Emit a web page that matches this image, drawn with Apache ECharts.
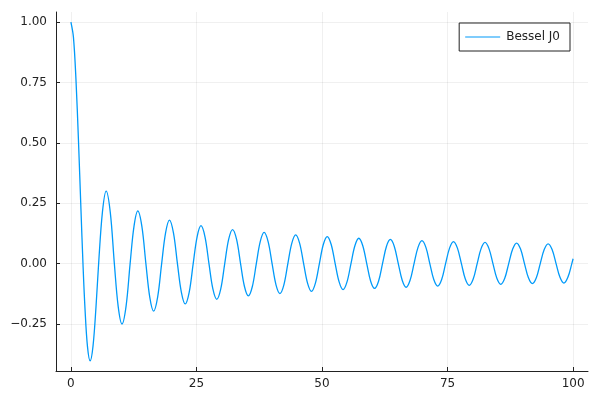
<!DOCTYPE html>
<html>
<head>
<meta charset="utf-8">
<script src="https://cdn.jsdelivr.net/npm/echarts@6/dist/echarts.min.js"></script>
<style>html,body{margin:0;padding:0;background:#fff}#c{width:600px;height:400px}</style>
</head>
<body>
<div id="c"></div>
<script>
// Values (peaks, troughs, zero crossings and half-way points)
const seriesName = 'Bessel J0';
const xValues = [
  0, 0.5, 1, 1.5, 2, 2.40, 2.8, 3.3, 3.83, 4.4, 5.0, 5.52,
  6.27, 7.02, 7.84, 8.65, 9.41, 10.17, 10.98, 11.79, 12.56, 13.32, 14.13, 14.93,
  15.70, 16.47, 17.27, 18.07, 18.85, 19.62, 20.42, 21.21, 21.99, 22.76, 23.56, 24.35,
  25.13, 25.90, 26.70, 27.49, 28.27, 29.05, 29.84, 30.63, 31.41, 32.19, 32.99, 33.78,
  34.56, 35.33, 36.13, 36.92, 37.70, 38.47, 39.27, 40.06, 40.84, 41.62, 42.41, 43.20,
  43.98, 44.76, 45.55, 46.34, 47.12, 47.90, 48.69, 49.48, 50.26, 51.04, 51.83, 52.62,
  53.41, 54.19, 54.98, 55.77, 56.55, 57.33, 58.12, 58.91, 59.69, 60.47, 61.26, 62.05,
  62.83, 63.61, 64.40, 65.19, 65.97, 66.75, 67.54, 68.33, 69.12, 69.90, 70.69, 71.47,
  72.26, 73.04, 73.83, 74.61, 75.40, 76.18, 76.97, 77.76, 78.54, 79.32, 80.11, 80.90,
  81.68, 82.46, 83.25, 84.04, 84.82, 85.60, 86.39, 87.18, 87.97, 88.75, 89.54, 90.32,
  91.11, 91.89, 92.68, 93.46, 94.25, 95.03, 95.82, 96.61, 97.39, 98.17, 98.96, 99.75, 100
];
const yValues = [
  1, 0.938, 0.765, 0.512, 0.224, 0, -0.185, -0.344, -0.403, -0.342, -0.178, 0,
  0.212, 0.300, 0.212, 0, -0.177, -0.250, -0.177, 0, 0.154, 0.218, 0.154, 0,
  -0.139, -0.197, -0.139, 0, 0.127, 0.180, 0.127, 0, -0.118, -0.167, -0.118, 0,
  0.111, 0.157, 0.111, 0, -0.105, -0.148, -0.105, 0, 0.100, 0.141, 0.100, 0,
  -0.095, -0.134, -0.095, 0, 0.091, 0.129, 0.091, 0, -0.088, -0.124, -0.088, 0,
  0.084, 0.119, 0.084, 0, -0.081, -0.115, -0.081, 0, 0.079, 0.112, 0.079, 0,
  -0.076, -0.108, -0.076, 0, 0.074, 0.105, 0.074, 0, -0.073, -0.103, -0.073, 0,
  0.071, 0.100, 0.071, 0, -0.069, -0.098, -0.069, 0, 0.067, 0.095, 0.067, 0,
  -0.066, -0.093, -0.066, 0, 0.064, 0.091, 0.064, 0, -0.064, -0.090, -0.064, 0,
  0.062, 0.088, 0.062, 0, -0.061, -0.086, -0.061, 0, 0.060, 0.085, 0.060, 0,
  -0.059, -0.083, -0.059, 0, 0.058, 0.082, 0.058, 0, -0.057, -0.081, -0.057, 0, 0.020
];
const xTicks = [0, 25, 50, 75, 100];
const yTicks = [-0.25, 0, 0.25, 0.5, 0.75, 1.0];

const data = xValues.map((x, i) => [x, yValues[i]]);
const chart = echarts.init(document.getElementById('c'), null, {renderer: 'canvas'});
const axisColor = '#222';
const gridColor = 'rgba(0,0,0,0.06)';
const font = 'DejaVu Sans';
chart.setOption({
  animation: false,
  backgroundColor: '#fff',
  grid: {left: 56, right: 12, top: 12, bottom: 29, containLabel: false},
  legend: {
    show: true, right: 30, top: 23, orient: 'vertical',
    data: [{name: seriesName, icon: 'rect'}],
    itemWidth: 35, itemHeight: 1, itemGap: 4,
    padding: [8, 10, 8, 6],
    borderColor: '#222', borderWidth: 1, borderRadius: 0,
    backgroundColor: '#fff',
    itemStyle: {color: '#009af9'},
    textStyle: {fontFamily: font, fontSize: 12, color: '#222', padding: [0, 0, 0, 1], lineHeight: 12}
  },
  xAxis: {
    type: 'value', min: -2.97, max: 102.97,
    axisLine: {show: true, onZero: false, lineStyle: {color: axisColor, width: 1}},
    axisTick: {show: true, inside: true, length: 4, customValues: xTicks, lineStyle: {color: axisColor}},
    axisLabel: {customValues: xTicks, fontFamily: font, fontSize: 12, color: '#222', margin: 7,
      formatter: v => String(v)},
    splitLine: {show: true, lineStyle: {color: gridColor, width: 1}}
  },
  yAxis: {
    type: 'value', min: -0.4449, max: 1.042,
    axisLine: {show: true, onZero: false, lineStyle: {color: axisColor, width: 1}},
    axisTick: {show: true, inside: true, length: 4, customValues: yTicks, lineStyle: {color: axisColor}},
    axisLabel: {customValues: yTicks, fontFamily: font, fontSize: 12, color: '#222', margin: 9,
      formatter: v => v.toFixed(2).replace('-', '\u2212')},
    splitLine: {show: true, lineStyle: {color: gridColor, width: 1}}
  },
  series: [{
    name: seriesName, type: 'line', data: data,
    symbol: 'none', smooth: 0.35,
    lineStyle: {color: '#009af9', width: 1.3},
    itemStyle: {color: '#009af9'}
  }]
});
</script>
</body>
</html>
